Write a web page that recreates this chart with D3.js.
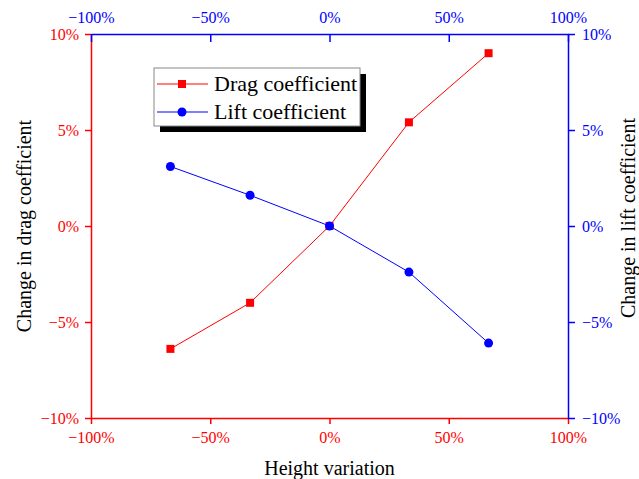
<!DOCTYPE html>
<html>
<head>
<meta charset="utf-8">
<script src="https://cdn.jsdelivr.net/npm/d3@7"></script>
<style>
  body { margin: 0; background: #fff; }
  svg { display: block; font-family: "Liberation Serif", "Times New Roman", serif; }
</style>
</head>
<body>
<svg id="chart" width="639" height="479"></svg>
<script>
// Data
var heightVariation = [-66.7, -33.3, 0, 33.3, 66.7];
var dragChange = [-6.4, -4.0, 0, 5.4, 9.0];
var liftChange = [3.1, 1.6, 0, -2.4, -6.1];
var xTicks = [-100, -50, 0, 50, 100];
var yTicks = [-10, -5, 0, 5, 10];
var seriesNames = ["Drag coefficient", "Lift coefficient"];

var RED = "#ff0000", BLUE = "#0000ff";

var svg = d3.select("#chart");
// plot frame (note: "top" is reserved on window, so use other names)
var plotLeft = 91, plotRight = 568, plotTop = 34, plotBottom = 418;

var x = d3.scaleLinear().domain([-100, 100]).range([plotLeft, plotRight]);
var yDrag = d3.scaleLinear().domain([-10, 10]).range([plotBottom, plotTop]);
var yLift = d3.scaleLinear().domain([-10, 10]).range([plotBottom, plotTop]);

var pct = function(d) { return d3.format("d")(d) + "%"; };

function styleAxis(g, color) {
  g.attr("font-family", "Liberation Serif").attr("font-size", 16);
  g.select(".domain").attr("stroke", color).attr("stroke-width", 1.5);
  g.selectAll(".tick line").attr("stroke", color).attr("stroke-width", 1.5);
  g.selectAll(".tick text").attr("fill", color);
}

// Bottom axis (red, ticks outward)
svg.append("g")
    .attr("transform", "translate(0," + plotBottom + ")")
    .call(d3.axisBottom(x).tickValues(xTicks).tickFormat(pct)
      .tickSizeInner(6).tickSizeOuter(0).tickPadding(8))
    .call(styleAxis, RED);

// Left axis (red)
svg.append("g")
    .attr("transform", "translate(" + plotLeft + ",0)")
    .call(d3.axisLeft(yDrag).tickValues(yTicks).tickFormat(pct)
      .tickSizeInner(6).tickSizeOuter(0).tickPadding(6))
    .call(styleAxis, RED);

// Top axis (blue, ticks inward)
svg.append("g")
    .attr("transform", "translate(0," + plotTop + ")")
    .call(d3.axisTop(x).tickValues(xTicks).tickFormat(pct)
      .tickSizeInner(-8).tickSizeOuter(0).tickPadding(11))
    .call(styleAxis, BLUE);

// Right axis (blue)
svg.append("g")
    .attr("transform", "translate(" + plotRight + ",0)")
    .call(d3.axisRight(yLift).tickValues(yTicks).tickFormat(pct)
      .tickSizeInner(7).tickSizeOuter(0).tickPadding(7))
    .call(styleAxis, BLUE);

// Axis titles
svg.append("text")
    .attr("x", (plotLeft + plotRight) / 2).attr("y", 475)
    .attr("text-anchor", "middle").attr("font-size", 20)
    .text("Height variation");

svg.append("text")
    .attr("transform", "translate(31,226) rotate(-90)")
    .attr("text-anchor", "middle").attr("font-size", 20)
    .text("Change in drag coefficient");

svg.append("text")
    .attr("transform", "translate(635,218) rotate(-90)")
    .attr("text-anchor", "middle").attr("font-size", 20)
    .text("Change in lift coefficient");

// Series
var dragLine = d3.line()
    .x(function(d, i) { return x(heightVariation[i]); })
    .y(function(d) { return yDrag(d); });
var liftLine = d3.line()
    .x(function(d, i) { return x(heightVariation[i]); })
    .y(function(d) { return yLift(d); });

svg.append("path").datum(dragChange)
    .attr("d", dragLine).attr("fill", "none")
    .attr("stroke", RED).attr("stroke-width", 1);
svg.append("path").datum(liftChange)
    .attr("d", liftLine).attr("fill", "none")
    .attr("stroke", BLUE).attr("stroke-width", 1);

svg.append("g").selectAll("rect").data(dragChange).enter()
    .append("rect")
    .attr("x", function(d, i) { return x(heightVariation[i]) - 4; })
    .attr("y", function(d) { return yDrag(d) - 4; })
    .attr("width", 8).attr("height", 8)
    .attr("fill", RED);

svg.append("g").selectAll("circle").data(liftChange).enter()
    .append("circle")
    .attr("cx", function(d, i) { return x(heightVariation[i]); })
    .attr("cy", function(d) { return yLift(d); })
    .attr("r", 4.5)
    .attr("fill", BLUE);

// Legend with drop shadow
var legend = svg.append("g").attr("transform", "translate(154,68)");
legend.append("rect")
    .attr("x", 6).attr("y", 6).attr("width", 206).attr("height", 58)
    .attr("fill", "#000");
legend.append("rect")
    .attr("x", 0).attr("y", 0).attr("width", 206).attr("height", 58)
    .attr("fill", "#fff").attr("stroke", "#888").attr("stroke-width", 1);

var rows = legend.selectAll(".row").data(seriesNames).enter()
    .append("g").attr("class", "row")
    .attr("transform", function(d, i) { return "translate(0," + (16 + i * 28) + ")"; });

rows.append("line")
    .attr("x1", 3).attr("x2", 54).attr("y1", 0).attr("y2", 0)
    .attr("stroke", function(d, i) { return i === 0 ? RED : BLUE; })
    .attr("stroke-width", 1);
rows.filter(function(d, i) { return i === 0; }).append("rect")
    .attr("x", 24).attr("y", -4).attr("width", 8).attr("height", 8)
    .attr("fill", RED);
rows.filter(function(d, i) { return i === 1; }).append("circle")
    .attr("cx", 28).attr("cy", 0).attr("r", 4.5)
    .attr("fill", BLUE);
rows.append("text")
    .attr("x", 60).attr("y", 7)
    .attr("font-size", 22)
    .text(function(d) { return d; });
</script>
</body>
</html>
